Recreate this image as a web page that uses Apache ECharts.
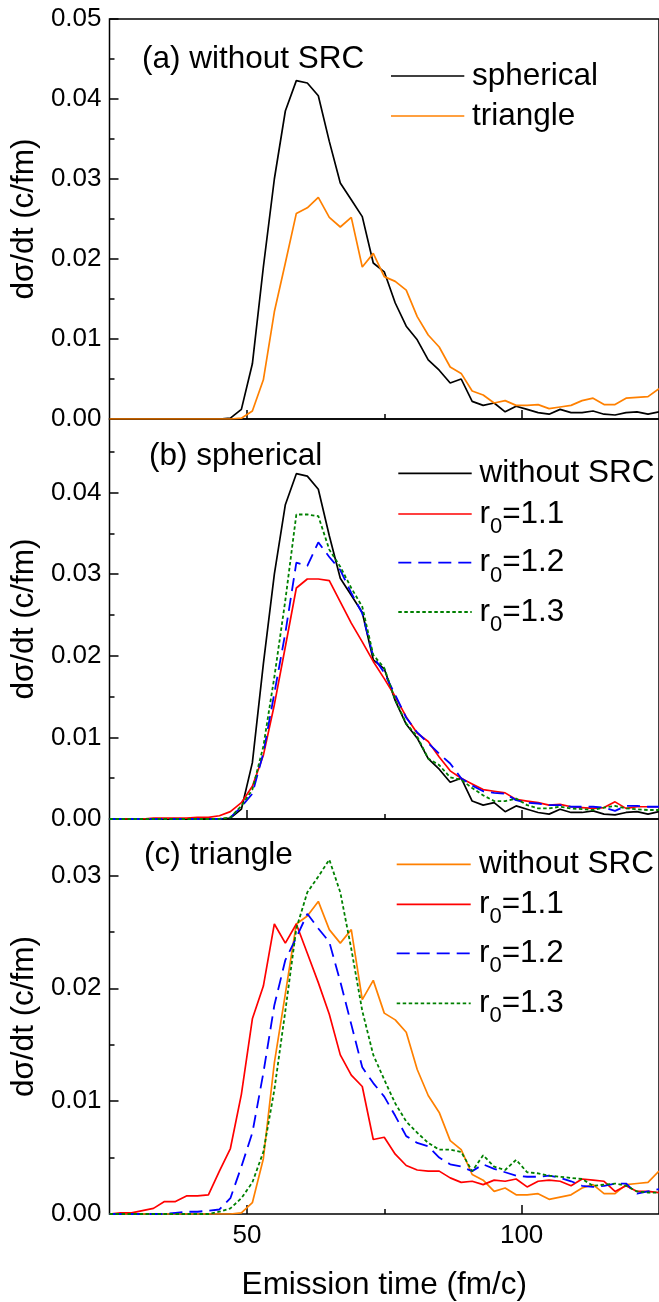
<!DOCTYPE html>
<html>
<head>
<meta charset="utf-8">
<script src="https://cdn.jsdelivr.net/npm/echarts@6/dist/echarts.min.js"></script>
<style>
html,body{margin:0;padding:0;background:#fff;}
#chart{width:659px;height:1302px;}
</style>
</head>
<body>
<div id="chart"></div>
<script>
// Emission time (fm/c)
const times = [25,27,29,31,33,35,37,39,41,43,45,47,49,51,53,55,57,59,61,63,65,67,69,71,73,75,77,79,81,83,85,87,89,91,93,95,97,99,101,103,105,107,109,111,113,115,117,119,121,123,125];

// spherical, without SRC
const sphNoSRC = [0,0,0,0,0,0,0,0,0,0,0,0.0001,0.0012,0.0069,0.019,0.030,0.0385,0.0423,0.0420,0.0404,0.0347,0.0295,0.0274,0.0253,0.0195,0.0184,0.0145,0.0116,0.0099,0.0074,0.0061,0.0045,0.0050,0.0022,0.0017,0.0020,0.0009,0.0016,0.0012,0.0008,0.0006,0.0012,0.0008,0.0008,0.0010,0.0006,0.0005,0.0008,0.0009,0.0006,0.0009];
// triangle, without SRC
const triNoSRC = [0,0,0,0,0,0,0,0,0,0,0,0,0.0001,0.0010,0.0049,0.0134,0.0195,0.0257,0.0264,0.0277,0.0252,0.0240,0.0252,0.0190,0.0207,0.0178,0.0172,0.0161,0.0128,0.0105,0.0090,0.0065,0.0057,0.0035,0.0030,0.0020,0.0023,0.0017,0.0017,0.0018,0.0013,0.0015,0.0017,0.0023,0.0026,0.0018,0.0018,0.0026,0.0027,0.0028,0.0038];
// spherical with SRC
const sphR11 = [0,0,0,0,0.0001,0.0001,0.0001,0.0001,0.0002,0.0002,0.0004,0.0009,0.0020,0.0040,0.0078,0.0140,0.0211,0.0283,0.0294,0.0294,0.0292,0.0266,0.0240,0.0217,0.0193,0.0172,0.0150,0.0125,0.0105,0.0095,0.0076,0.0059,0.0050,0.0043,0.0036,0.0034,0.0032,0.0024,0.0022,0.0020,0.0017,0.0018,0.0015,0.0014,0.0013,0.0014,0.0021,0.0013,0.0015,0.0015,0.0015];
const sphR12 = [0,0,0,0,0,0,0,0,0,0,0,0.0002,0.0015,0.0031,0.0081,0.0154,0.0228,0.0314,0.0310,0.0339,0.0321,0.0305,0.0277,0.0252,0.0199,0.0179,0.0152,0.0124,0.0106,0.0093,0.0080,0.0068,0.0050,0.0041,0.0034,0.0032,0.0031,0.0023,0.0020,0.0019,0.0017,0.0017,0.0015,0.0015,0.0015,0.0014,0.0010,0.0016,0.0016,0.0015,0.0015];
const sphR13 = [0,0,0,0,0,0,0,0,0,0,0,0.0002,0.0016,0.0036,0.0089,0.0174,0.0268,0.0373,0.0373,0.0371,0.0330,0.0309,0.0283,0.0260,0.0201,0.0185,0.0146,0.0117,0.0101,0.0074,0.0066,0.0051,0.0048,0.0038,0.0029,0.0022,0.0022,0.0025,0.0017,0.0013,0.0013,0.0015,0.0013,0.0012,0.0011,0.0014,0.0016,0.0013,0.0012,0.0011,0.0011];
// triangle with SRC
const triR11 = [0,0.0001,0.0001,0.0003,0.0005,0.0011,0.0011,0.0016,0.0016,0.0017,0.0038,0.0058,0.0106,0.0173,0.0202,0.0257,0.0240,0.0257,0.0231,0.0205,0.0177,0.0141,0.0123,0.0113,0.0066,0.0068,0.0053,0.0043,0.0039,0.0038,0.0038,0.0032,0.0028,0.0029,0.0026,0.0030,0.0029,0.0031,0.0024,0.0029,0.0030,0.0029,0.0025,0.0031,0.0030,0.0029,0.0020,0.0025,0.0020,0.0020,0.0019];
const triR12 = [0,0,0,0,0,0,0.0001,0.0002,0.0002,0.0003,0.0004,0.0014,0.0042,0.0072,0.0125,0.0185,0.0225,0.0245,0.0266,0.0253,0.0241,0.0206,0.0168,0.0130,0.0116,0.0104,0.0087,0.0069,0.0063,0.0060,0.0050,0.0044,0.0042,0.0038,0.0044,0.0040,0.0037,0.0034,0.0033,0.0033,0.0034,0.0032,0.0029,0.0025,0.0024,0.0025,0.0027,0.0027,0.0018,0.0020,0.0022];
const triR13 = [0,0,0,0,0,0,0,0,0,0,0.0002,0.0005,0.0014,0.0028,0.0055,0.0110,0.0180,0.0253,0.0285,0.0299,0.0314,0.0285,0.0235,0.0180,0.0141,0.0119,0.0098,0.0082,0.0072,0.0063,0.0057,0.0057,0.0055,0.0038,0.0052,0.0042,0.0039,0.0048,0.0037,0.0036,0.0034,0.0033,0.0032,0.0031,0.0025,0.0026,0.0027,0.0025,0.0020,0.0019,0.0019];

// axis ranges and ticks
const xRange = [25, 125];
const xMajorTicks = [50, 100];
const xMinorTicks = [75];
const yMax = [0.05, 0.049, 0.035];
const yMajorTicks = [[0,0.01,0.02,0.03,0.04,0.05],[0,0.01,0.02,0.03,0.04],[0,0.01,0.02,0.03]];
const yMinorTicks = [[0.005,0.015,0.025,0.035,0.045],[0.005,0.015,0.025,0.035,0.045],[0.005,0.015,0.025,0.035]];

const panelLabels = ['(a) without SRC', '(b) spherical', '(c) triangle'];
const xTitle = 'Emission time (fm/c)';
const yTitle = 'dσ/dt (c/fm)';

const FONT = 'Liberation Sans, Arial, Helvetica, sans-serif';
const C = {black:'#000000', orange:'#FF8000', red:'#FF0000', blue:'#0000FF', green:'#008000'};
const styles = {
  black: {color:C.black, width:1.7, type:'solid'},
  orange: {color:C.orange, width:1.7, type:'solid'},
  red: {color:C.red, width:1.7, type:'solid'},
  blue: {color:C.blue, width:1.8, type:[13,7]},
  green: {color:C.green, width:1.8, type:[3.5,2.5]}
};

const GL = 109, GW = 554.7, GH = 400, tops = [19, 419, 819];

const grids = tops.map(t => ({left:GL, top:t, width:GW, height:GH, show:true, borderColor:'#000', borderWidth:1.5, backgroundColor:'transparent'}));
const xAxes = [], yAxes = [];
for (let i = 0; i < 3; i++) {
  xAxes.push({
    gridIndex:i, type:'value', min:xRange[0], max:xRange[1], interval:25, position:'bottom',
    axisLine:{show:false}, splitLine:{show:false},
    axisTick:{show:true, inside:true, length:9, customValues:xMajorTicks, lineStyle:{color:'#000', width:1.5}},
    axisLabel:{show:i===2, customValues:xMajorTicks, fontSize:26, fontFamily:FONT, color:'#000', margin:9},
    name: i===2 ? xTitle : '', nameLocation:'middle', nameGap:55,
    nameTextStyle:{fontSize:31.5, fontFamily:FONT, color:'#000'}
  });
  xAxes.push({
    gridIndex:i, type:'value', min:xRange[0], max:xRange[1], interval:25, position:'bottom',
    axisLine:{show:false}, splitLine:{show:false},
    axisTick:{show:true, inside:true, length:5, customValues:xMinorTicks, lineStyle:{color:'#000', width:1.5}},
    axisLabel:{show:false}
  });
  yAxes.push({
    gridIndex:i, type:'value', min:0, max:yMax[i], interval:0.01, position:'left',
    axisLine:{show:false}, splitLine:{show:false},
    axisTick:{show:true, inside:true, length:9, customValues:yMajorTicks[i], lineStyle:{color:'#000', width:1.5}},
    axisLabel:{customValues:yMajorTicks[i], formatter:v => v.toFixed(2), fontSize:26, fontFamily:FONT, color:'#000', margin:8},
    name:yTitle, nameLocation:'middle', nameGap:63, nameRotate:90,
    nameTextStyle:{fontSize:31.5, fontFamily:FONT, color:'#000'}
  });
  yAxes.push({
    gridIndex:i, type:'value', min:0, max:yMax[i], interval:0.01, position:'left',
    axisLine:{show:false}, splitLine:{show:false},
    axisTick:{show:true, inside:true, length:5, customValues:yMinorTicks[i], lineStyle:{color:'#000', width:1.5}},
    axisLabel:{show:false}
  });
}

function mk(name, vals, st, panel, z) {
  return {
    name, type:'line', xAxisIndex:panel*2, yAxisIndex:panel*2, showSymbol:false, symbol:'none',
    data: times.map((t, k) => [t, vals[k]]),
    lineStyle:{color:st.color, width:st.width, type:st.type},
    itemStyle:{color:st.color}, z:z, animation:false, clip:true
  };
}

const series = [
  mk('spherical', sphNoSRC, styles.black, 0, 3),
  mk('triangle', triNoSRC, styles.orange, 0, 4),
  mk('without SRC', sphNoSRC, styles.black, 1, 3),
  mk('r0=1.1', sphR11, styles.red, 1, 4),
  mk('r0=1.2', sphR12, styles.blue, 1, 5),
  mk('r0=1.3', sphR13, styles.green, 1, 6),
  mk('without SRC', triNoSRC, styles.orange, 2, 3),
  mk('r0=1.1', triR11, styles.red, 2, 4),
  mk('r0=1.2', triR12, styles.blue, 2, 5),
  mk('r0=1.3', triR13, styles.green, 2, 6)
];

// legend / annotation graphics
const g = [];
function txt(x, y, s, size) {
  g.push({type:'text', x:x, y:y, z:100, style:{text:s, fontSize:size, fontFamily:FONT, fill:'#000', align:'left', verticalAlign:'middle'}});
}
function legLine(x1, x2, y, st) {
  const dash = Array.isArray(st.type) ? st.type : null;
  g.push({type:'line', z:100, shape:{x1:x1, y1:y, x2:x2, y2:y}, style:{stroke:st.color, lineWidth:st.width, lineDash:dash}});
}
function rLabel(x, y, val) {
  txt(x, y, 'r', 31.5);
  txt(x + 10.5, y + 13, '0', 22);
  txt(x + 22.7, y, '=' + val, 31.5);
}
txt(142, 59, panelLabels[0], 31.5);
txt(149, 456, panelLabels[1], 31.5);
txt(144, 855, panelLabels[2], 31.5);

// panel a legend
legLine(391, 464.3, 76, styles.black); txt(472, 76, 'spherical', 31.5);
legLine(391, 464.3, 116, styles.orange); txt(472, 116, 'triangle', 31.5);
// panel b legend
legLine(398.3, 471.7, 473.3, styles.black); txt(479.5, 473.3, 'without SRC', 31.5);
legLine(398.3, 471.7, 514, styles.red); rLabel(479.5, 514, '1.1');
legLine(398.3, 471.7, 562.7, styles.blue); rLabel(479.5, 562.7, '1.2');
legLine(398.3, 471.7, 612, styles.green); rLabel(479.5, 612, '1.3');
// panel c legend
legLine(396.7, 470.7, 864.3, styles.orange); txt(479, 864.3, 'without SRC', 31.5);
legLine(396.7, 470.7, 904.3, styles.red); rLabel(479, 904.3, '1.1');
legLine(396.7, 470.7, 953.3, styles.blue); rLabel(479, 953.3, '1.2');
legLine(396.7, 470.7, 1003.3, styles.green); rLabel(479, 1003.3, '1.3');

const chart = echarts.init(document.getElementById('chart'), null, {renderer:'canvas'});
chart.setOption({
  backgroundColor:'#fff',
  animation:false,
  grid:grids, xAxis:xAxes, yAxis:yAxes, series:series, graphic:g
});
</script>
</body>
</html>
